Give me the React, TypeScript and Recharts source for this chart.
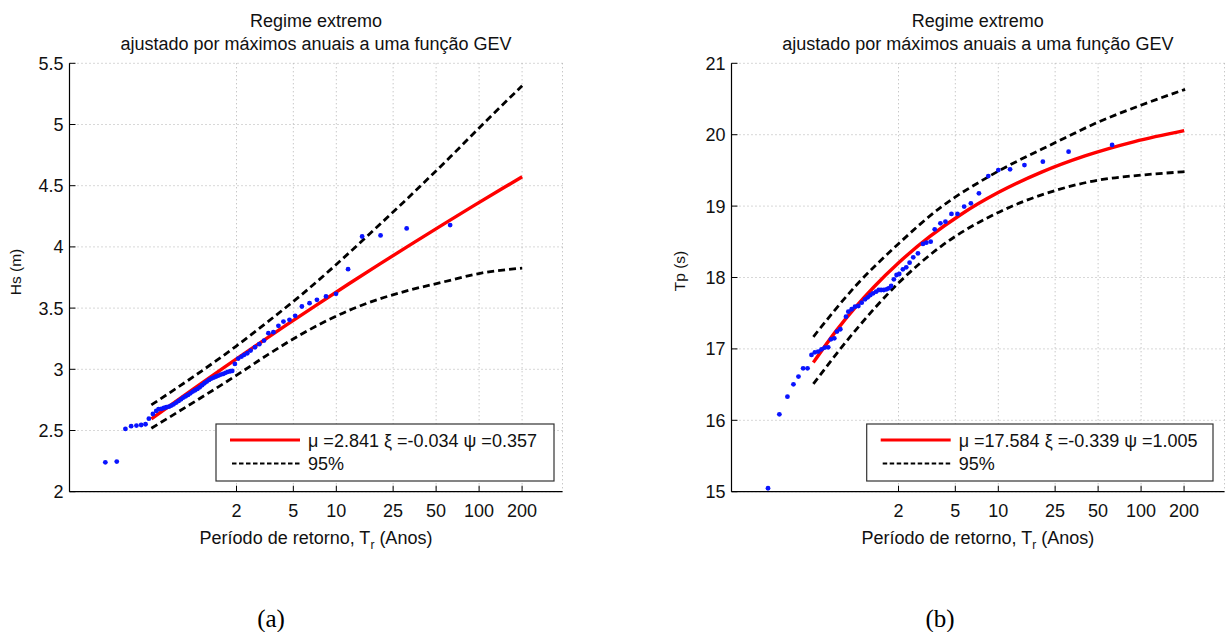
import React from 'react';
import { ComposedChart, Line, Scatter, XAxis, YAxis, CartesianGrid } from 'recharts';

// Return-period tick labels (years); axis variable is the reduced variate u, ticks at ln(T)
const returnPeriods = [2, 5, 10, 25, 50, 100, 200];
const xTicks = returnPeriods.map((t) => Math.log(t));
const xDomain: [number, number] = [-2, 5.95];

const hsTicks = [2, 2.5, 3, 3.5, 4, 4.5, 5, 5.5];
const tpTicks = [15, 16, 17, 18, 19, 20, 21];

// Panel (a) Hs — observed annual maxima [u, Hs]
const hsObserved: [number, number][] = [
  [-1.422, 2.24], [-1.238, 2.246], [-1.098, 2.513], [-1.006, 2.535], [-0.92, 2.54], [-0.844, 2.545],
  [-0.774, 2.551], [-0.72, 2.597], [-0.655, 2.635], [-0.601, 2.66], [-0.564, 2.674], [-0.52, 2.676],
  [-0.477, 2.684], [-0.439, 2.69], [-0.396, 2.695], [-0.358, 2.704], [-0.321, 2.714], [-0.278, 2.728],
  [-0.24, 2.742], [-0.202, 2.755], [-0.164, 2.769], [-0.126, 2.78], [-0.089, 2.791], [-0.051, 2.804],
  [-0.013, 2.818], [0.025, 2.829], [0.062, 2.84], [0.1, 2.853], [0.138, 2.87], [0.176, 2.886],
  [0.214, 2.9], [0.251, 2.913], [0.289, 2.924], [0.327, 2.932], [0.365, 2.941], [0.403, 2.949],
  [0.44, 2.957], [0.478, 2.962], [0.516, 2.971], [0.554, 2.979], [0.592, 2.984], [0.624, 2.987],
  [0.667, 3.044], [0.721, 3.088], [0.775, 3.104], [0.818, 3.118], [0.867, 3.131], [0.921, 3.153],
  [0.991, 3.18], [1.061, 3.205], [1.137, 3.235], [1.207, 3.295], [1.288, 3.303], [1.369, 3.355],
  [1.45, 3.39], [1.547, 3.404], [1.639, 3.437], [1.747, 3.513], [1.871, 3.54], [1.99, 3.568],
  [2.136, 3.595], [2.298, 3.617], [2.492, 3.818], [2.719, 4.085], [3.016, 4.094], [3.437, 4.151],
  [4.138, 4.178],
];
const hsFit: [number, number][] = [
  [-0.68, 2.595], [0, 2.841], [0.5, 3.018], [1, 3.192], [1.5, 3.363], [2, 3.531], [2.5, 3.697],
  [3, 3.859], [3.5, 4.019], [4, 4.176], [4.5, 4.331], [5, 4.483], [5.3, 4.573],
];
const hsUpper: [number, number][] = [
  [-0.68, 2.709], [0, 2.94], [0.69, 3.19], [1.2, 3.39], [1.72, 3.6], [2.2, 3.81], [2.72, 4.05],
  [3.5, 4.42], [4.15, 4.74], [4.7, 5.02], [5.3, 5.317],
];
const hsLower: [number, number][] = [
  [-0.68, 2.518], [0, 2.73], [0.69, 2.95], [1.2, 3.12], [1.72, 3.281], [2.5, 3.48], [3.0, 3.575],
  [3.5, 3.649], [4.0, 3.71], [4.64, 3.786], [5.3, 3.827],
];

// Panel (b) Tp — observed annual maxima [u, Tp]
const tpObserved: [number, number][] = [
  [-1.411, 15.048], [-1.228, 16.084], [-1.098, 16.331], [-1.001, 16.504], [-0.92, 16.612],
  [-0.845, 16.728], [-0.774, 16.728], [-0.71, 16.915], [-0.656, 16.952], [-0.602, 16.962],
  [-0.548, 16.994], [-0.494, 17.018], [-0.44, 17.022], [-0.397, 17.134], [-0.342, 17.148],
  [-0.299, 17.242], [-0.245, 17.275], [-0.154, 17.452], [-0.116, 17.522], [-0.062, 17.555],
  [-0.008, 17.592], [0.046, 17.601], [0.1, 17.648], [0.154, 17.695], [0.197, 17.723], [0.24, 17.755],
  [0.284, 17.779], [0.332, 17.802], [0.375, 17.825], [0.413, 17.825], [0.456, 17.825], [0.5, 17.835],
  [0.532, 17.849], [0.575, 17.881], [0.618, 17.975], [0.662, 18.035], [0.705, 18.049], [0.764, 18.115],
  [0.818, 18.143], [0.872, 18.208], [0.931, 18.283], [1.007, 18.339], [1.088, 18.47], [1.142, 18.488],
  [1.212, 18.502], [1.277, 18.675], [1.369, 18.759], [1.45, 18.782], [1.547, 18.89], [1.644, 18.89],
  [1.752, 18.993], [1.86, 19.039], [1.99, 19.179], [2.141, 19.421], [2.303, 19.505], [2.492, 19.515],
  [2.724, 19.575], [3.021, 19.622], [3.436, 19.762], [4.138, 19.856],
];
const tpFit: [number, number][] = [
  [-0.68, 16.81], [-0.3, 17.267], [0, 17.584], [0.3, 17.871], [0.7, 18.21], [1.2, 18.575],
  [1.7, 18.883], [2.3, 19.189], [3.0, 19.476], [3.7, 19.703], [4.5, 19.904], [5.3, 20.057],
];
const tpUpper: [number, number][] = [
  [-0.68, 17.17], [0, 17.88], [0.69, 18.47], [1.385, 18.99], [2.141, 19.41], [3.247, 19.9],
  [3.922, 20.18], [4.624, 20.42], [5.315, 20.635],
];
const tpLower: [number, number][] = [
  [-0.68, 16.51], [0, 17.26], [0.69, 17.92], [1.385, 18.44], [2.33, 18.922], [3.247, 19.225],
  [3.922, 19.365], [4.624, 19.435], [5.315, 19.482],
];

const FONT = '"Liberation Sans", Arial, Helvetica, sans-serif';
const PLOT_W = 493;
const YAXIS_W = 69.5;

const toRows = (pairs: [number, number][]) => pairs.map(([u, v]) => ({ u, v }));

const BottomTick = (props: any) => {
  const { x, y, payload } = props;
  return (
    <g>
      <line x1={x} x2={x} y1={y} y2={y - 6} stroke="#000" strokeWidth={1} />
      <text x={x} y={y + 25} textAnchor="middle" fontSize={18} fill="#111" fontFamily={FONT}>
        {Math.round(Math.exp(payload.value))}
      </text>
    </g>
  );
};
const TopTick = (props: any) => {
  const { x, y } = props;
  return <line x1={x} x2={x} y1={y} y2={y + 6} stroke="#000" strokeWidth={1} />;
};
const LeftTick = (props: any) => {
  const { x, y, payload } = props;
  return (
    <g>
      <line x1={x} x2={x + 6} y1={y} y2={y} stroke="#000" strokeWidth={1} />
      <text x={x - 6} y={y + 6.5} textAnchor="end" fontSize={18} fill="#111" fontFamily={FONT}>
        {String(payload.value)}
      </text>
    </g>
  );
};
const RightTick = (props: any) => {
  const { x, y } = props;
  return <line x1={x - 6} x2={x} y1={y} y2={y} stroke="#000" strokeWidth={1} />;
};

const Dot = (props: any) => {
  const { cx, cy } = props;
  if (cx == null || cy == null) return null;
  return <circle cx={cx} cy={cy} r={2.4} fill="#0a14ff" />;
};

type PanelProps = {
  left: number;
  width: number;
  obs: [number, number][];
  fit: [number, number][];
  upper: [number, number][];
  lower: [number, number][];
  yDomain: [number, number];
  yTicks: number[];
};

const Panel = ({ left, width, obs, fit, upper, lower, yDomain, yTicks }: PanelProps) => (
  <div style={{ position: 'absolute', left, top: 0 }}>
    <ComposedChart
      width={width}
      height={560}
      margin={{ top: 63.3, right: width - YAXIS_W - PLOT_W, bottom: 28.3, left: 0 }}
    >
      <CartesianGrid stroke="#b0b0b0" strokeDasharray="1 3" strokeWidth={1} />
      <XAxis
        xAxisId={0}
        dataKey="u"
        type="number"
        domain={xDomain}
        ticks={xTicks}
        allowDataOverflow
        interval={0}
        height={40}
        tickSize={0}
        tickMargin={0}
        tickLine={false}
        axisLine={{ stroke: '#000', strokeWidth: 1.2 }}
        tick={BottomTick}
      />
      <XAxis
        xAxisId="top"
        orientation="top"
        type="number"
        domain={xDomain}
        ticks={xTicks}
        allowDataOverflow
        interval={0}
        height={0}
        tickSize={0}
        tickMargin={0}
        tickLine={false}
        axisLine={{ stroke: '#000', strokeWidth: 1.2 }}
        tick={TopTick}
      />
      <YAxis
        yAxisId={0}
        type="number"
        domain={yDomain}
        ticks={yTicks}
        allowDataOverflow
        interval={0}
        width={YAXIS_W}
        tickSize={0}
        tickMargin={0}
        tickLine={false}
        axisLine={{ stroke: '#000', strokeWidth: 1.2 }}
        tick={LeftTick}
      />
      <YAxis
        yAxisId="right"
        orientation="right"
        type="number"
        domain={yDomain}
        ticks={yTicks}
        allowDataOverflow
        interval={0}
        width={0}
        tickSize={0}
        tickMargin={0}
        tickLine={false}
        axisLine={{ stroke: '#000', strokeWidth: 1.2 }}
        tick={RightTick}
      />
      <Line data={toRows(upper)} dataKey="v" type="monotone" stroke="#000" strokeWidth={2.8}
        strokeDasharray="7 4" dot={false} isAnimationActive={false} />
      <Line data={toRows(lower)} dataKey="v" type="monotone" stroke="#000" strokeWidth={2.8}
        strokeDasharray="7 4" dot={false} isAnimationActive={false} />
      <Line data={toRows(fit)} dataKey="v" type="monotone" stroke="#ff0000" strokeWidth={3.4}
        dot={false} isAnimationActive={false} />
      <Scatter data={toRows(obs)} dataKey="v" shape={Dot} isAnimationActive={false} />
    </ComposedChart>
  </div>
);

const Legend = ({ x, y, w, text }: { x: number; y: number; w: number; text: string }) => (
  <g>
    <rect x={x} y={y} width={w} height={57} fill="#fff" stroke="#333" strokeWidth={1.2} />
    <line x1={x + 14} x2={x + 84} y1={y + 16} y2={y + 16} stroke="#ff0000" strokeWidth={3} />
    <text x={x + 92} y={y + 22.5} fontSize={18} fontFamily={FONT} fill="#111">{text}</text>
    <line x1={x + 16} x2={x + 84} y1={y + 39.5} y2={y + 39.5} stroke="#000" strokeWidth={2}
      strokeDasharray="4.5 2.5" />
    <text x={x + 92} y={y + 46} fontSize={18} fontFamily={FONT} fill="#111">95%</text>
  </g>
);

const Titles = ({ cx }: { cx: number }) => (
  <g fontFamily={FONT} fontSize={18} fill="#111" textAnchor="middle">
    <text x={cx} y={27}>Regime extremo</text>
    <text x={cx} y={50}>ajustado por máximos anuais a uma função GEV</text>
    <text x={cx} y={544}>
      Período de retorno, T<tspan dy={5} fontSize={12}>r</tspan><tspan dy={-5}> (Anos)</tspan>
    </text>
  </g>
);

export default function App() {
  const aLeft = 0;
  const bLeft = 731.3 - YAXIS_W;
  const aCx = aLeft + YAXIS_W + PLOT_W / 2;
  const bCx = bLeft + YAXIS_W + PLOT_W / 2;
  return (
    <div
      style={{
        position: 'absolute', left: 0, top: 0, width: 1226, height: 632,
        background: '#fff', overflow: 'hidden',
      }}
    >
      <Panel left={aLeft} width={600} obs={hsObserved} fit={hsFit} upper={hsUpper} lower={hsLower}
        yDomain={[2, 5.5]} yTicks={hsTicks} />
      <Panel left={bLeft} width={1226 - bLeft} obs={tpObserved} fit={tpFit} upper={tpUpper} lower={tpLower}
        yDomain={[15, 21]} yTicks={tpTicks} />
      <svg width={1226} height={632} style={{ position: 'absolute', left: 0, top: 0, pointerEvents: 'none' }}>
        <Titles cx={aCx} />
        <Titles cx={bCx} />
        <text transform="translate(21,272) rotate(-90)" textAnchor="middle" fontSize={15.5}
          fontFamily={FONT} fill="#111">Hs (m)</text>
        <text transform="translate(685,271) rotate(-90)" textAnchor="middle" fontSize={15.5}
          fontFamily={FONT} fill="#111">Tp (s)</text>
        <Legend x={216} y={424} w={338} text="μ =2.841 ξ =-0.034 ψ =0.357" />
        <Legend x={866.7} y={424} w={346.3} text="μ =17.584 ξ =-0.339 ψ =1.005" />
        <text x={271} y={627} textAnchor="middle" fontSize={25}
          fontFamily='"Liberation Serif", "Times New Roman", serif' fill="#000">(a)</text>
        <text x={940} y={627} textAnchor="middle" fontSize={25}
          fontFamily='"Liberation Serif", "Times New Roman", serif' fill="#000">(b)</text>
      </svg>
    </div>
  );
}
